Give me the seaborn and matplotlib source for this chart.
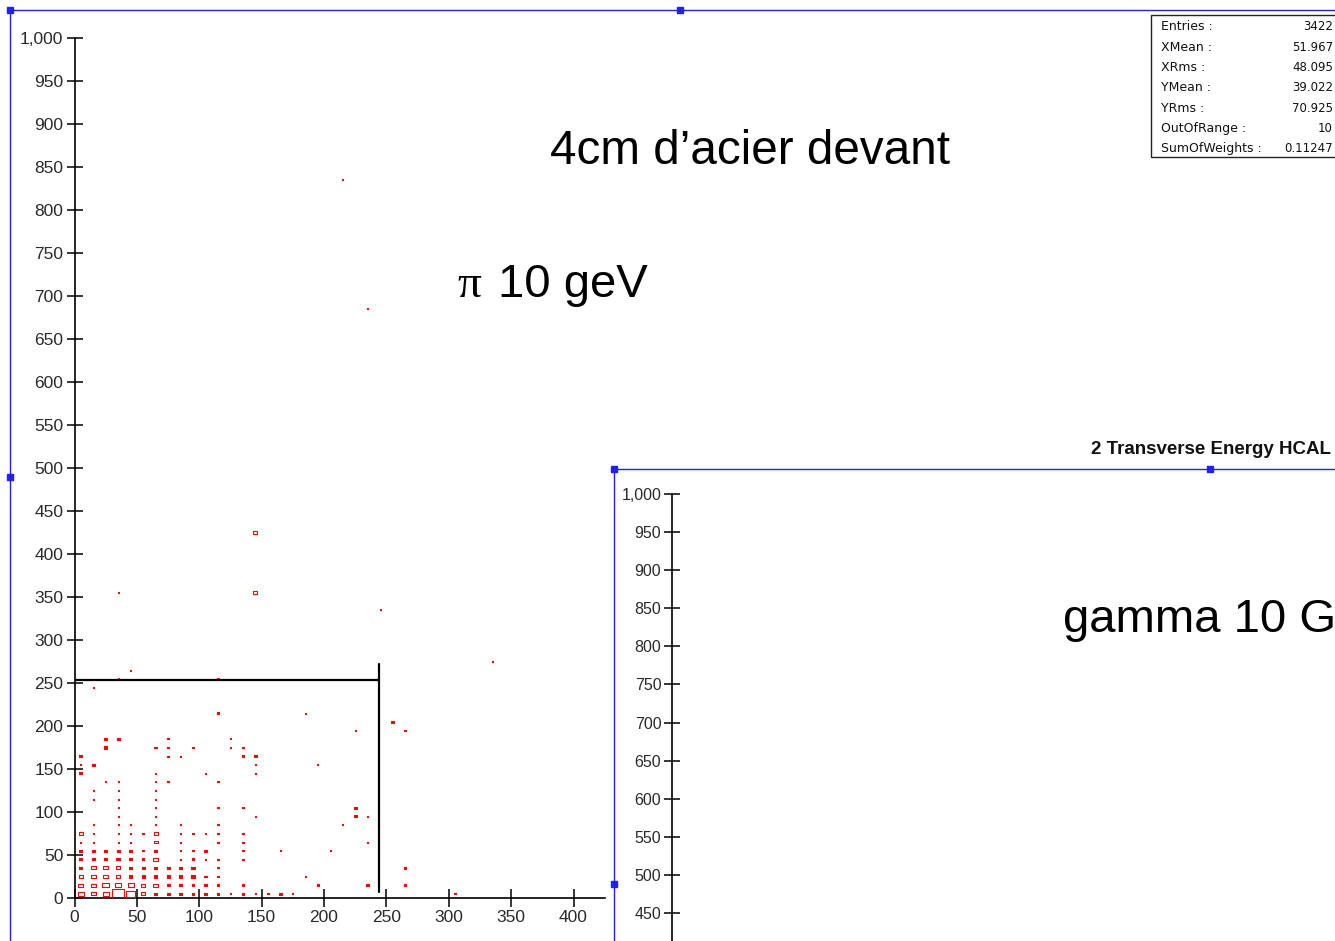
import matplotlib
matplotlib.use("Agg")
import matplotlib.pyplot as plt
from matplotlib.lines import Line2D
from matplotlib.patches import Rectangle
from matplotlib.path import Path
from matplotlib.ticker import StrMethodFormatter
import seaborn as sns
import pandas as pd
import numpy as np

# 2D box histogram: bin centres along x, and for each column the y bins and contents
col_x = [5, 15, 25, 35, 45, 55, 65, 75, 85, 95, 105, 115, 125, 135, 145,
         155, 165, 175, 185, 195, 205, 215, 225, 235, 245, 255, 265, 305, 335]
col_y = [
    [5, 15, 25, 35, 45, 55, 65, 75, 145, 155, 165],
    [5, 15, 25, 35, 45, 55, 65, 75, 85, 115, 125, 155, 245],
    [5, 15, 25, 35, 45, 55, 135, 175, 185],
    [5, 15, 25, 35, 45, 55, 65, 75, 85, 95, 105, 115, 125, 135, 185, 255, 355],
    [5, 15, 25, 35, 45, 55, 65, 75, 85, 265],
    [5, 15, 25, 35, 45, 55, 75],
    [5, 15, 25, 35, 45, 55, 65, 75, 85, 95, 105, 115, 125, 135, 145, 175],
    [5, 15, 25, 35, 135, 165, 175, 185],
    [5, 15, 25, 35, 45, 55, 65, 75, 85, 165],
    [5, 15, 25, 35, 45, 55, 75, 175],
    [5, 15, 25, 45, 55, 75, 145],
    [5, 15, 25, 35, 45, 65, 75, 85, 105, 135, 215, 255],
    [5, 175, 185],
    [5, 15, 45, 55, 65, 75, 105, 165, 175],
    [5, 95, 145, 155, 165, 355, 425],
    [5],
    [5, 55],
    [5],
    [25, 215],
    [15, 155],
    [55],
    [85, 835],
    [95, 105, 195],
    [15, 65, 95, 685],
    [335],
    [205],
    [15, 35, 195],
    [5],
    [275],
]
col_c = [
    [15, 9, 7, 4, 4, 4, 1, 7, 4, 1, 4],
    [9, 9, 9, 9, 4, 4, 1, 1, 1, 1, 1, 4, 1],
    [15, 17, 9, 9, 5, 5, 1, 5, 5],
    [60, 17, 9, 9, 5, 4, 1, 1, 1, 1, 1, 1, 1, 1, 4, 1, 1],
    [31, 15, 5, 4, 5, 4, 1, 1, 1, 1],
    [9, 8, 4, 4, 3, 2, 1],
    [4, 9, 4, 4, 8, 3, 7, 7, 1, 1, 1, 1, 1, 1, 1, 3],
    [4, 4, 4, 4, 1, 1, 1, 1],
    [4, 4, 4, 4, 1, 1, 1, 1, 1, 1],
    [4, 4, 5, 5, 3, 1, 1, 1],
    [3, 3, 3, 1, 3, 1, 1],
    [3, 3, 3, 1, 1, 1, 1, 1, 1, 1, 3, 1],
    [1, 1, 1],
    [3, 3, 1, 1, 1, 1, 1, 3, 1],
    [1, 1, 1, 1, 3, 7, 7],
    [1],
    [3, 1],
    [1],
    [1, 1],
    [3, 1],
    [1],
    [1, 1],
    [4, 4, 1],
    [3, 1, 1, 1],
    [1],
    [3],
    [3, 3, 1],
    [1],
    [1],
]

# hand-drawn cut lines on the main panel
cut_x = 244
cut_y = 253.5
cut_x_span = [7, 272]

stat_names = ["Entries :", "XMean :", "XRms :", "YMean :", "YRms :",
              "OutOfRange :", "SumOfWeights :"]
stat_values = ["3422", "51.967", "48.095", "39.022", "70.925", "10", "0.11247"]

W, H = 1335, 941


def fx(px):
    return px / W


def fy(py):
    return 1 - py / H


def box_area(c):
    # box side scales with sqrt(content); convert pixels to points^2
    w = 13.0 * np.sqrt(c / 60.0)
    return (max(w - 0.4, 0.8) * 0.72) ** 2


def style_axis(ax, size, ticks):
    ax.set_ylim(0, 1000)
    ax.set_yticks(ticks)
    ax.yaxis.set_major_formatter(StrMethodFormatter("{x:,.0f}"))
    ax.tick_params(axis="y", left=True, direction="inout", length=12, width=1.1,
                   color="black", labelsize=size, labelcolor="#2a2a2a", pad=2)
    for s in ["top", "right"]:
        ax.spines[s].set_visible(False)
    for s in ["left", "bottom"]:
        ax.spines[s].set_color("black")
        ax.spines[s].set_linewidth(1.2)
    ax.set_xlabel("")
    ax.set_ylabel("")


def main():
    rows = []
    for x, ys, cs in zip(col_x, col_y, col_c):
        for y, c in zip(ys, cs):
            rows.append((x, y, c))
    df = pd.DataFrame(rows, columns=["x", "y", "count"])

    sns.set_style("white")
    plt.rcParams["font.family"] = ["Liberation Sans", "DejaVu Sans"]

    fig = plt.figure(figsize=(W / 100, H / 100), dpi=100)
    fig.patch.set_facecolor("white")

    # main panel
    ax = fig.add_axes([fx(74.5), fy(898), fx(530.2), 860 / H])
    ax.set_facecolor("none")
    box = Path([(-1, -0.69), (1, -0.69), (1, 0.69), (-1, 0.69), (-1, -0.69)],
               [Path.MOVETO, Path.LINETO, Path.LINETO, Path.LINETO, Path.CLOSEPOLY])
    sizes = {c: box_area(c) for c in sorted(df["count"].unique())}
    sns.scatterplot(data=df, x="x", y="y", size="count", sizes=sizes,
                    marker=box, color="red", legend=False, ax=ax, zorder=3)
    pts = ax.collections[-1]
    # small boxes look solid, bigger ones are drawn hollow
    faces = [(1, 0, 0, 1) if c <= 5 else (1, 1, 1, 0) for c in df["count"]]
    pts.set_facecolor(faces)
    pts.set_edgecolor("#ff0000")
    pts.set_linewidth(0.8)

    ax.plot([0, cut_x], [cut_y, cut_y], color="black", lw=1.6, zorder=4)
    ax.plot([cut_x, cut_x], cut_x_span, color="black", lw=1.6, zorder=4)

    style_axis(ax, 12.5, np.arange(0, 1001, 50))
    ax.set_xlim(0, 425)
    ax.set_xticks(np.arange(0, 401, 50))
    ax.tick_params(axis="x", bottom=True, direction="inout", length=13, width=1.1,
                   color="black", labelsize=12.5, labelcolor="#2a2a2a", pad=2.5)

    # second panel, mostly cut off below the figure
    ax2 = fig.add_axes([fx(671.7), fy(1255.8), fx(W - 671.7), 761.8 / H])
    ax2.set_facecolor("none")
    style_axis(ax2, 11.5, np.arange(450, 1001, 50))
    ax2.tick_params(axis="y", length=11)
    ax2.set_xticks([])
    ax2.spines["bottom"].set_visible(False)
    ax2.set_xlim(0, 425)

    blue = "#1f1fff"
    for (x0, y0, x1, y1) in [(10, 10, W, 10), (10, 10, 10, H),
                             (614, 469, W, 469), (614, 469, 614, H)]:
        fig.add_artist(Line2D([fx(x0), fx(x1)], [fy(y0), fy(y1)],
                              color=blue, lw=1.0, transform=fig.transFigure))
    for (x0, y0) in [(10, 10), (680, 10), (10, 477), (614, 469), (1210, 469), (614, 884)]:
        fig.add_artist(Line2D([fx(x0)], [fy(y0)], marker="s", markersize=4,
                              color=blue, lw=0, transform=fig.transFigure))

    # statistics box
    fig.add_artist(Rectangle((fx(1150.5), fy(157)), fx(200), 142 / H,
                             transform=fig.transFigure, facecolor="white",
                             edgecolor="#222222", lw=1.0))
    for i, (name, val) in enumerate(zip(stat_names, stat_values)):
        yy = fy(27 + i * 20.3)
        fig.text(fx(1161), yy, name, ha="left", va="center", fontsize=9,
                 family=["DejaVu Sans"], color="#111111")
        fig.text(fx(1333), yy, val, ha="right", va="center", fontsize=8.5,
                 family=["DejaVu Sans"], color="#111111")

    fig.text(fx(1331), fy(449), "2 Transverse Energy HCAL", ha="right",
             va="center", fontsize=13.5, fontweight="bold", color="#111111")

    fig.text(fx(550), fy(164), "4cm d\u2019acier devant", ha="left",
             va="baseline", fontsize=34.3, color="black")
    fig.text(fx(457), fy(297), "\u03c0", ha="left", va="baseline",
             fontsize=34, family=["Liberation Serif", "DejaVu Serif"], color="black")
    fig.text(fx(498), fy(297), "10 geV", ha="left", va="baseline", fontsize=34,
             color="black")
    # runs off the right edge, as in the source screenshot
    fig.text(fx(1063), fy(632), "gamma 10 GeV", ha="left", va="baseline",
             fontsize=34, color="black")

    fig.savefig("out.png", dpi=100, facecolor="white")
    plt.close(fig)


if __name__ == "__main__":
    main()
